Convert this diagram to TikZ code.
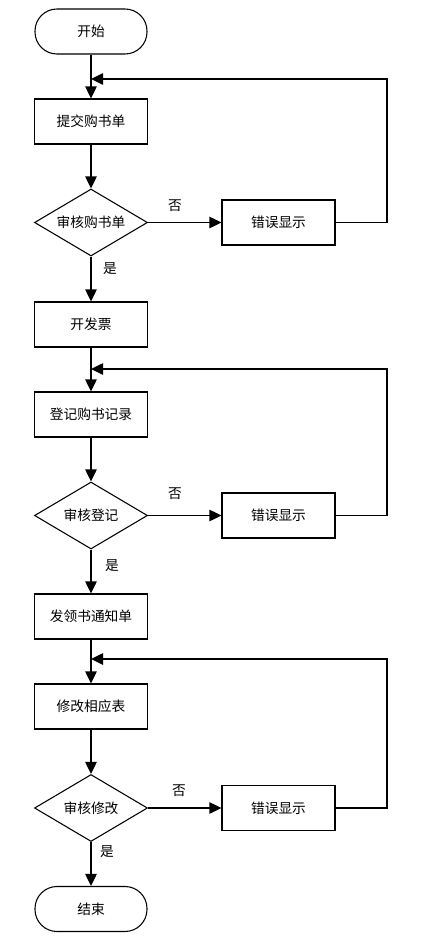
\documentclass[tikz,border=0pt]{standalone}
\usepackage{fontspec}
\setmainfont{Noto Sans CJK SC}
\usetikzlibrary{arrows.meta,shapes.geometric}

\begin{document}
\begin{tikzpicture}[x=0.75pt,y=-0.75pt,>={Triangle[length=9pt,width=8.5pt]},line width=1.1pt,
    every node/.style={font=\fontsize{10.3}{12}\selectfont},
    terminal/.style={draw,line width=0.8pt,rounded corners=16.5pt,minimum width=84pt,minimum height=33.75pt},
    procbox/.style={draw,line width=0.8pt,minimum width=84.75pt,minimum height=33.75pt},
    decision/.style={draw,line width=0.8pt,diamond,aspect=1.7,inner sep=0pt,minimum width=84.75pt,minimum height=50.25pt}]
  \useasboundingbox (0,0) rectangle (447,942);
  % main column
  \node[terminal] (start) at (91,31.5) {开始};
  \node[procbox] (submit) at (91,121.5) {提交购书单};
  \node[decision] (checkorder) at (91,222.5) {审核购书单};
  \node[procbox] (invoice) at (91,324.5) {开发票};
  \node[procbox] (record) at (91,414.5) {登记购书记录};
  \node[decision] (checkrecord) at (91,515.5) {审核登记};
  \node[procbox] (notice) at (91,616.5) {发领书通知单};
  \node[procbox] (update) at (91,706.5) {修改相应表};
  \node[decision] (checkupdate) at (91,808) {审核修改};
  \node[terminal] (finish) at (91,909) {结束};
  \foreach \a/\b in {start/submit,submit/checkorder,checkorder/invoice,invoice/record,record/checkrecord,
      checkrecord/notice,notice/update,update/checkupdate,checkupdate/finish}
    \draw[->] (\a) -- (\b);
  % error branches and feedback
  \foreach \i/\d/\y/\m/\nx/\ny/\yx/\yy in {1/checkorder/222.5/79/175/206/110/269,
      2/checkrecord/515.5/369/175/494/112/565.7,3/checkupdate/808/659/179/790.7/107/852} {
    \node[procbox] (err\i) at (278.5,\y) {错误显示};
    \coordinate (merge\i) at (91,\m);
    \coordinate (turn\i) at (387,\m);
    \draw[->] (\d) -- (err\i);
    \draw[->] (err\i) -| (turn\i) -- (merge\i);
    \node (no\i) at (\nx,\ny) {否};
    \node (yes\i) at (\yx,\yy) {是};
  }
\end{tikzpicture}
\end{document}
